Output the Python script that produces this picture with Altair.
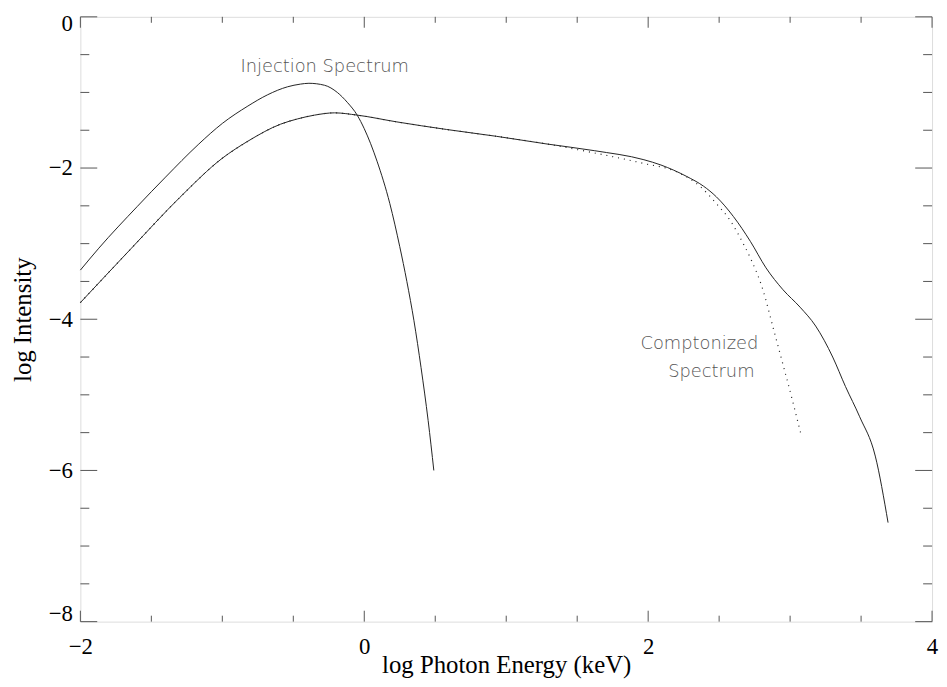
import altair as alt
import pandas as pd

# ---- data ----
x_inj = [-2.0, -1.87, -1.6, -1.4, -1.17, -1.0, -0.82, -0.68, -0.54, -0.45, -0.39, -0.28,
         -0.19, -0.12, -0.05, 0.0, 0.09, 0.18, 0.25, 0.30, 0.35, 0.40, 0.45, 0.49]
y_inj = [-3.35, -3.06, -2.51, -2.12, -1.69, -1.41, -1.18, -1.03, -0.925, -0.89, -0.879, -0.905,
         -1.00, -1.13, -1.30, -1.48, -1.91, -2.47, -3.04, -3.50, -4.02, -4.64, -5.34, -6.0]

x_comp = [-2.0, -1.64, -1.3, -1.0, -0.82, -0.59, -0.47, -0.35, -0.21, -0.05, 0.23, 0.58, 0.93,
          1.28, 1.62, 1.97, 2.09, 2.27, 2.39, 2.48, 2.60, 2.72, 2.83, 2.95, 3.07, 3.18, 3.30,
          3.39, 3.49, 3.60, 3.69]
y_comp = [-3.78, -3.06, -2.39, -1.87, -1.645, -1.42, -1.35, -1.30, -1.27, -1.30, -1.39, -1.49, -1.58,
          -1.68, -1.77, -1.89, -1.96, -2.11, -2.24, -2.38, -2.64, -2.97, -3.32, -3.61, -3.84, -4.09, -4.50,
          -4.89, -5.29, -5.81, -6.69]

x_dot = x_comp[:14] + [1.62, 1.97, 2.20, 2.37, 2.48, 2.58, 2.67, 2.72, 2.81, 2.88, 2.95, 3.02, 3.08]
y_dot = y_comp[:14] + [-1.80, -1.94, -2.05, -2.25, -2.47, -2.70, -3.00, -3.19, -3.62, -4.11, -4.60, -5.10, -5.55]

label_text = ["Injection Spectrum", "Comptonized", "Spectrum"]
label_x = [-0.279, 2.361, 2.445]
label_y = [-0.734, -4.39, -4.77]

x_major = [-2, 0, 2, 4]
x_minor = [-1.5, -1, -0.5, 0.5, 1, 1.5, 2.5, 3, 3.5]
y_major = [0, -2, -4, -6, -8]
y_minor = [-0.5, -1, -1.5, -2.5, -3, -3.5, -4.5, -5, -5.5, -6.5, -7, -7.5]

W, H = 859, 610
TC = "#555555"
LC = "#222222"

xs = alt.Scale(domain=[-2, 4], nice=False, zero=False)
ys = alt.Scale(domain=[-8, 0], nice=False, zero=False)

xaxis = alt.Axis(values=x_major, ticks=False, domain=False, grid=False, format="d",
                 labelFont="Liberation Serif", labelFontSize=23, labelColor="#000",
                 labelPadding=14, labelFlush=False, title="log Photon Energy (keV)",
                 titleFont="Liberation Serif", titleFontSize=25, titleFontWeight="normal",
                 titleColor="#000", titleY=43, titleBaseline="middle")
yaxis = alt.Axis(values=y_major, ticks=False, domain=False, grid=False, format="d",
                 labelFont="Liberation Serif", labelFontSize=23, labelColor="#000",
                 labelPadding=8, labelFlush=True, labelFlushOffset=4, title="log Intensity",
                 titleFont="Liberation Serif", titleFontSize=25, titleFontWeight="normal",
                 titleColor="#000", titleX=-58, titleY=H / 2, titleBaseline="middle",
                 titleAngle=-90)

def X():
    return alt.X("x:Q", scale=xs, axis=xaxis)

def Y():
    return alt.Y("y:Q", scale=ys, axis=yaxis)

inj = alt.Chart(pd.DataFrame({"x": x_inj, "y": y_inj})).mark_line(
    color=LC, strokeWidth=1, interpolate="monotone").encode(x=X(), y=Y())
comp = alt.Chart(pd.DataFrame({"x": x_comp, "y": y_comp})).mark_line(
    color=LC, strokeWidth=1, interpolate="monotone").encode(x=X(), y=Y())
dot = alt.Chart(pd.DataFrame({"x": x_dot, "y": y_dot})).mark_line(
    color=LC, strokeWidth=1.2, strokeDash=[1, 5], interpolate="monotone").encode(x=X(), y=Y())

labels = alt.Chart(pd.DataFrame({"x": label_x, "y": label_y, "t": label_text})).mark_text(
    font="DejaVu Sans", fontSize=18, fontWeight=200, color="#555555",
    align="center", baseline="alphabetic").encode(x=X(), y=Y(), text="t:N")

def xticks(vals, length):
    d = pd.DataFrame({"x": vals})
    b = alt.Chart(d).mark_rule(color=TC, strokeWidth=1).encode(
        x=X(), y=alt.value(H), y2=alt.value(H - length))
    t = alt.Chart(d).mark_rule(color=TC, strokeWidth=1).encode(
        x=X(), y=alt.value(0), y2=alt.value(length))
    return [b, t]

def yticks(vals, length):
    d = pd.DataFrame({"y": vals})
    l = alt.Chart(d).mark_rule(color=TC, strokeWidth=1).encode(
        y=Y(), x=alt.value(0), x2=alt.value(length))
    r = alt.Chart(d).mark_rule(color=TC, strokeWidth=1).encode(
        y=Y(), x=alt.value(W), x2=alt.value(W - length))
    return [l, r]

layers = (xticks(x_major, 11) + xticks(x_minor, 6) + yticks(y_major, 17) + yticks(y_minor, 9)
          + [inj, comp, dot, labels])

chart = alt.layer(*layers).properties(
    width=W, height=H,
    autosize=alt.AutoSizeParams(type="none"),
    padding={"left": 73, "top": 6, "right": 7, "bottom": 62},
).configure_view(stroke=TC, strokeWidth=1).configure(background="white")

chart.save("out.html", embed_options={"renderer": "svg", "actions": False})
